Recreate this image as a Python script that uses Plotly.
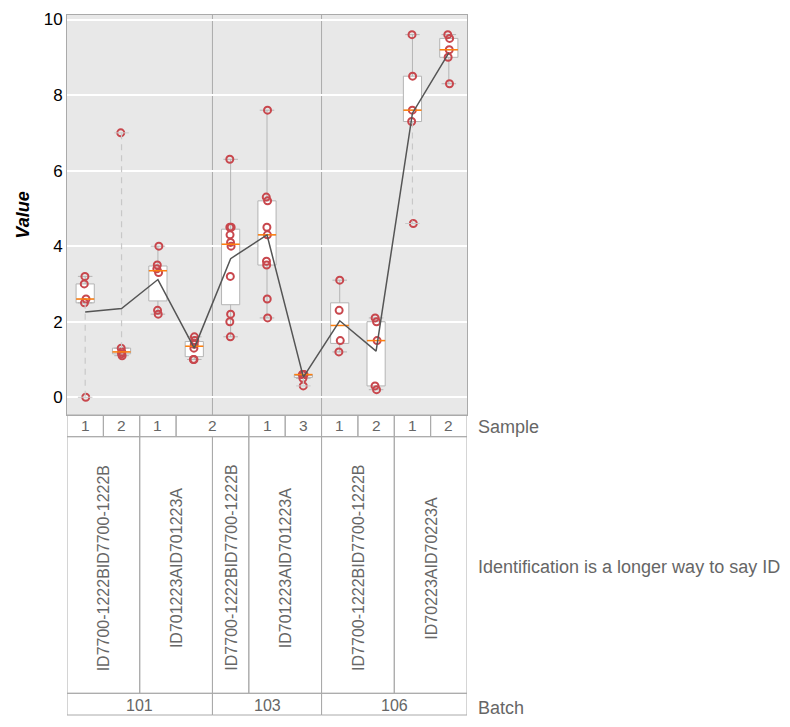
import numpy as np
import plotly.graph_objects as go

# ---- data ----
batch = ['101', '101', '101', '101', '103', '103', '103', '106', '106', '106', '106']
ident = ['ID7700-1222BID7700-1222B', 'ID7700-1222BID7700-1222B',
         'ID701223AID701223A', 'ID701223AID701223A',
         'ID7700-1222BID7700-1222B',
         'ID701223AID701223A', 'ID701223AID701223A',
         'ID7700-1222BID7700-1222B', 'ID7700-1222BID7700-1222B',
         'ID70223AID70223A', 'ID70223AID70223A']
sample = ['1', '2', '1', '2', '2', '1', '3', '1', '2', '1', '2']

v101_b_1 = [3.2, 3.0, 2.6, 2.5, 0.0]
v101_b_2 = [7.0, 1.3, 1.2, 1.15, 1.1]
v101_a_1 = [4.0, 3.5, 3.4, 3.3, 2.3, 2.2]
v101_a_2 = [1.6, 1.5, 1.4, 1.3, 1.0, 1.0]
v103_b_2 = [6.3, 4.5, 4.5, 4.3, 4.1, 4.0, 3.2, 2.2, 2.0, 1.6]
v103_a_1 = [7.6, 5.3, 5.2, 4.5, 4.3, 3.6, 3.5, 2.6, 2.1]
v103_a_3 = [0.6, 0.6, 0.6, 0.6, 0.5, 0.3]
v106_b_1 = [3.1, 2.3, 1.5, 1.2]
v106_b_2 = [2.1, 2.0, 1.5, 0.3, 0.2]
v106_a_1 = [9.6, 8.5, 7.6, 7.3, 4.6]
v106_a_2 = [9.6, 9.5, 9.2, 9.0, 8.3]

groups = [v101_b_1, v101_b_2, v101_a_1, v101_a_2, v103_b_2, v103_a_1,
          v103_a_3, v106_b_1, v106_b_2, v106_a_1, v106_a_2]

row_titles = ['Sample', 'Identification is a longer way to say ID', 'Batch']
y_ticks = [0, 2, 4, 6, 8, 10]

# ---- styles ----
FONT = 'Liberation Sans, Arial, sans-serif'
GRAY_TXT = '#666666'
BORDER = '#aaaaaa'
RED = '#c8474d'
BOX_W = 0.5

n = len(groups)
xs = np.arange(n)

# ---- statistics ----
q1s, meds, q3s, lfs, ufs, means = [], [], [], [], [], []
dash_x, dash_y, cap_x, cap_y, med_x, med_y = [], [], [], [], [], []
for i, g in enumerate(groups):
    a = np.array(g, dtype=float)
    q1, med, q3 = np.percentile(a, [25, 50, 75])
    iqr = q3 - q1
    lo_in = a[a >= q1 - 1.5 * iqr].min()
    hi_in = a[a <= q3 + 1.5 * iqr].max()
    lf = min(q1, lo_in)
    uf = max(q3, hi_in)
    q1s.append(q1); meds.append(med); q3s.append(q3)
    lfs.append(lf); ufs.append(uf); means.append(a.mean())
    med_x += [i - BOX_W / 2, i + BOX_W / 2, None]
    med_y += [med, med, None]
    if a.min() < lf:
        dash_x += [i, i, None]; dash_y += [lf, a.min(), None]
        cap_x += [i - 0.2, i + 0.2, None]; cap_y += [a.min(), a.min(), None]
    if a.max() > uf:
        dash_x += [i, i, None]; dash_y += [uf, a.max(), None]
        cap_x += [i - 0.2, i + 0.2, None]; cap_y += [a.max(), a.max(), None]

fig = go.Figure()

fig.add_trace(go.Box(
    x=xs, q1=q1s, median=meds, q3=q3s, lowerfence=lfs, upperfence=ufs,
    width=BOX_W, whiskerwidth=0.8, fillcolor='white',
    line=dict(color='#b4b4b4', width=1), boxpoints=False,
    hoverinfo='skip', showlegend=False))

fig.add_trace(go.Scatter(x=dash_x, y=dash_y, mode='lines',
                         line=dict(color='#c8c8c8', width=1.2, dash='6px,5px'),
                         hoverinfo='skip', showlegend=False))
fig.add_trace(go.Scatter(x=cap_x, y=cap_y, mode='lines',
                         line=dict(color='#c8c8c8', width=1),
                         hoverinfo='skip', showlegend=False))
fig.add_trace(go.Scatter(x=med_x, y=med_y, mode='lines',
                         line=dict(color='#ff7f0e', width=1.5),
                         hoverinfo='skip', showlegend=False))
fig.add_trace(go.Scatter(x=xs, y=means, mode='lines',
                         line=dict(color='#555555', width=1.5),
                         hoverinfo='skip', showlegend=False))

px_x, px_y = [], []
for i, g in enumerate(groups):
    px_x += [i] * len(g)
    px_y += list(g)
fig.add_trace(go.Box(
    x=px_x, y=px_y, boxpoints='all', jitter=0.12, pointpos=0,
    width=BOX_W, fillcolor='rgba(0,0,0,0)',
    line=dict(width=0, color='rgba(0,0,0,0)'),
    marker=dict(symbol='circle-open', size=7, color=RED,
                line=dict(width=2, color=RED)),
    hoverinfo='skip', showlegend=False))

# ---- layout geometry (pixels from top of plotting area) ----
H = 700.0
MAIN_H = 400.0
rows = [(400.0, 421.7), (421.7, 678.3), (678.3, 700.0)]
cell_yshift = [0, -3, -1]
title_yshift = [-1, -2, -4]


def paper(ypx):
    return 1 - ypx / H


shapes = []
annotations = []

# batch separators in main plot
bounds = [i for i in range(1, n) if batch[i] != batch[i - 1]]
for b in bounds:
    shapes.append(dict(type='line', xref='x', yref='y domain', x0=b - 0.5, x1=b - 0.5,
                       y0=0, y1=1, line=dict(color=BORDER, width=1), layer='below'))


def runs(keys):
    out = []
    s = 0
    for i in range(1, n + 1):
        if i == n or keys[i] != keys[s]:
            out.append((s, i - 1))
            s = i
    return out


row_defs = [
    (sample, sample, 15.5, 0),
    (ident, list(zip(batch, ident)), 16, -90),
    (batch, batch, 16, 0),
]
for (labels, keys, fs, ang), (top, bot), ys in zip(row_defs, rows, cell_yshift):
    for s, e in runs(keys):
        shapes.append(dict(type='rect', xref='x', yref='paper',
                           x0=s - 0.5, x1=e + 0.5, y0=paper(bot), y1=paper(top),
                           line=dict(color=BORDER, width=1), fillcolor='rgba(0,0,0,0)'))
        annotations.append(dict(xref='x', yref='paper', x=(s + e) / 2,
                                y=paper((top + bot) / 2), yshift=ys, text=labels[s],
                                showarrow=False, textangle=ang,
                                font=dict(family=FONT, size=fs, color=GRAY_TXT),
                                xanchor='center', yanchor='middle'))

for title, (top, bot), ys in zip(row_titles, rows, title_yshift):
    annotations.append(dict(xref='paper', yref='paper', x=1, xshift=9,
                            y=paper((top + bot) / 2), yshift=ys, text=title,
                            showarrow=False, xanchor='left', yanchor='middle',
                            font=dict(family=FONT, size=18, color=GRAY_TXT)))

# page body has an 8px default margin; figure sized to fit the 790x727 window
fig.update_layout(
    width=782, height=719,
    margin=dict(l=59, r=323, t=7, b=12, pad=0, autoexpand=False),
    paper_bgcolor='white', plot_bgcolor='#e8e8e8',
    font=dict(family=FONT),
    showlegend=False,
    hovermode=False,
    shapes=shapes,
    annotations=annotations,
    xaxis=dict(range=[-0.5, n - 0.5], showticklabels=False, ticks='',
               showgrid=False, zeroline=False, showline=True, mirror=True,
               linecolor=BORDER, linewidth=1),
    yaxis=dict(domain=[1 - MAIN_H / H, 1], range=[-0.47, 10.12],
               tickvals=y_ticks, ticks='', showgrid=True, gridcolor='white',
               gridwidth=2, zeroline=False, showline=True, mirror=True,
               linecolor=BORDER, linewidth=1,
               tickfont=dict(family=FONT, size=17, color='black'),
               title=dict(text='<b><i>Value</i></b>', standoff=9,
                          font=dict(family=FONT, size=18, color='black'))),
)

fig.write_html('out.html')
